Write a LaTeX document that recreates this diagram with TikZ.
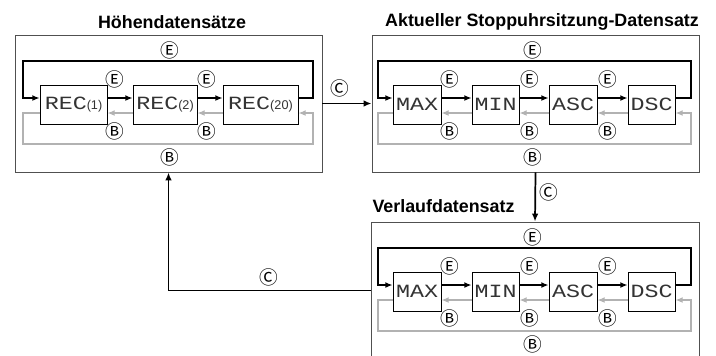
\documentclass[tikz,border=0pt]{standalone}
\usepackage{graphicx}
\usepackage{fontspec}
\setmainfont{Liberation Sans}
\newfontfamily\circfont{Noto Sans CJK JP}
\newfontfamily\lcdfont{Liberation Mono}
\usetikzlibrary{arrows.meta,calc}
\definecolor{lgray}{RGB}{178,178,178}
\definecolor{fgray}{RGB}{80,80,80}
\newcommand\lcd[1]{\scalebox{1.25}[1]{\lcdfont\fontsize{14}{14}\selectfont #1}}
\newcommand\smallp[1]{{\fontsize{9.5}{9.5}\selectfont #1}}
\newcommand\fourrow[2]{%
  \node[cell,minimum width=36pt] (#1m) at (417,104.5+#2) {\lcd{MAX}};
  \node[cell,minimum width=35.25pt] (#1n) at (495.5,104.5+#2) {\lcd{MIN}};
  \node[cell,minimum width=36pt] (#1a) at (573,104.5+#2) {\lcd{ASC}};
  \node[cell,minimum width=35.25pt] (#1d) at (651.5,104.5+#2) {\lcd{DSC}};
  \coordinate (#1tl) at (378,61+#2);
  \coordinate (#1tr) at (691,61+#2);
  \coordinate (#1bl) at (378,144+#2);
  \coordinate (#1br) at (691,144+#2);
  \draw[blk] ($(#1d.east)+(0,-6.5)$) -| (#1tr) -- (#1tl) |- ($(#1m.west)+(0,-6.5)$);
  \draw[gry] ($(#1m.west)+(0,8.5)$) -| (#1bl) -- (#1br) |- ($(#1d.east)+(0,8.5)$);
  \draw[blk] ($(#1m.east)+(0,-6.5)$) -- ($(#1n.west)+(0,-6.5)$);
  \draw[blk] ($(#1n.east)+(0,-6.5)$) -- ($(#1a.west)+(0,-6.5)$);
  \draw[blk] ($(#1a.east)+(0,-6.5)$) -- ($(#1d.west)+(0,-6.5)$);
  \draw[gry] ($(#1n.west)+(0,8.5)$) -- ($(#1m.east)+(0,8.5)$);
  \draw[gry] ($(#1a.west)+(0,8.5)$) -- ($(#1n.east)+(0,8.5)$);
  \draw[gry] ($(#1d.west)+(0,8.5)$) -- ($(#1a.east)+(0,8.5)$);
  \node[lbl] (#1et) at (533,50+#2) {Ⓔ};
  \node[lbl] (#1ea) at (450,79+#2) {Ⓔ};
  \node[lbl] (#1eb) at (530,79+#2) {Ⓔ};
  \node[lbl] (#1ec) at (608,79+#2) {Ⓔ};
  \node[lbl] (#1ba) at (450,131+#2) {Ⓑ};
  \node[lbl] (#1bb) at (530,131+#2) {Ⓑ};
  \node[lbl] (#1bc) at (608,131+#2) {Ⓑ};
  \node[lbl] (#1bt) at (533,157+#2) {Ⓑ};
}
\begin{document}
\begin{tikzpicture}[x=0.75pt,y=-0.75pt,
  frame/.style={draw=fgray,line width=0.7pt,inner sep=0,minimum height=102.75pt},
  cell/.style={draw=black,line width=0.6pt,inner sep=0,minimum height=29.25pt,text=black!80},
  blk/.style={draw=black,line width=1.4pt,-{Latex[length=5.5pt,width=4.5pt]}},
  gry/.style={draw=lgray,line width=1.4pt,-{Latex[length=5.5pt,width=4.5pt]}},
  conn/.style={draw=black,line width=1.3pt,-{Latex[length=6pt,width=5pt]}},
  lbl/.style={font=\circfont\fontsize{14}{14}\selectfont,inner sep=0},
  title/.style={font=\bfseries\fontsize{13.4}{15}\selectfont,inner sep=0}]
\useasboundingbox (0,0) rectangle (716,355);
\clip (0,0) rectangle (716,355);
\fill[white] (0,0) rectangle (716,355);
% frames
\node[frame,minimum width=230.25pt] (b1) at (168.5,103.5) {};
\node[frame,minimum width=245.25pt] (b2) at (535.5,103.5) {};
\node[frame,minimum width=246pt] (b3) at (535,290.5) {};
\node[title] (t1) at (172,22) {Höhendatensätze};
\node[title] (t2) at (542,22) {Aktueller Stoppuhrsitzung-Datensatz};
\node[title] (t3) at (443.5,206) {Verlaufdatensatz};
% box 1 content
\node[cell,minimum width=50.25pt] (r1) at (73.5,104.5) {\lcd{REC}\smallp{(1)}};
\node[cell,minimum width=48pt] (r2) at (165,104.5) {\lcd{REC}\smallp{(2)}};
\node[cell,minimum width=56.25pt] (r20) at (260.5,104.5) {\lcd{REC}\smallp{(20)}};
\coordinate (atl) at (23,61);
\coordinate (atr) at (313,61);
\coordinate (abl) at (23,144);
\coordinate (abr) at (313,144);
\draw[blk] ($(r20.east)+(0,-6.5)$) -| (atr) -- (atl) |- ($(r1.west)+(0,-6.5)$);
\draw[gry] ($(r1.west)+(0,8.5)$) -| (abl) -- (abr) |- ($(r20.east)+(0,8.5)$);
\draw[blk] ($(r1.east)+(0,-6.5)$) -- ($(r2.west)+(0,-6.5)$);
\draw[blk] ($(r2.east)+(0,-6.5)$) -- ($(r20.west)+(0,-6.5)$);
\draw[gry] ($(r2.west)+(0,8.5)$) -- ($(r1.east)+(0,8.5)$);
\draw[gry] ($(r20.west)+(0,8.5)$) -- ($(r2.east)+(0,8.5)$);
\node[lbl] (aet) at (170,50) {Ⓔ};
\node[lbl] (aea) at (115,79) {Ⓔ};
\node[lbl] (aeb) at (207,79) {Ⓔ};
\node[lbl] (aba) at (115,131) {Ⓑ};
\node[lbl] (abb) at (207,131) {Ⓑ};
\node[lbl] (abt) at (170,157) {Ⓑ};
% boxes 2 and 3 content
\fourrow{p}{0}
\fourrow{q}{187}
% connectors
\draw[conn] (b1.east) -- (b2.west);
\node[lbl] (c1) at (340,88) {Ⓒ};
\draw[conn] (b2.south) -- (b3.north);
\node[lbl] (c2) at (549,192) {Ⓒ};
\draw[conn] (b3.west) -| (b1.south);
\node[lbl] (c3) at (269,277) {Ⓒ};
\end{tikzpicture}
\end{document}
